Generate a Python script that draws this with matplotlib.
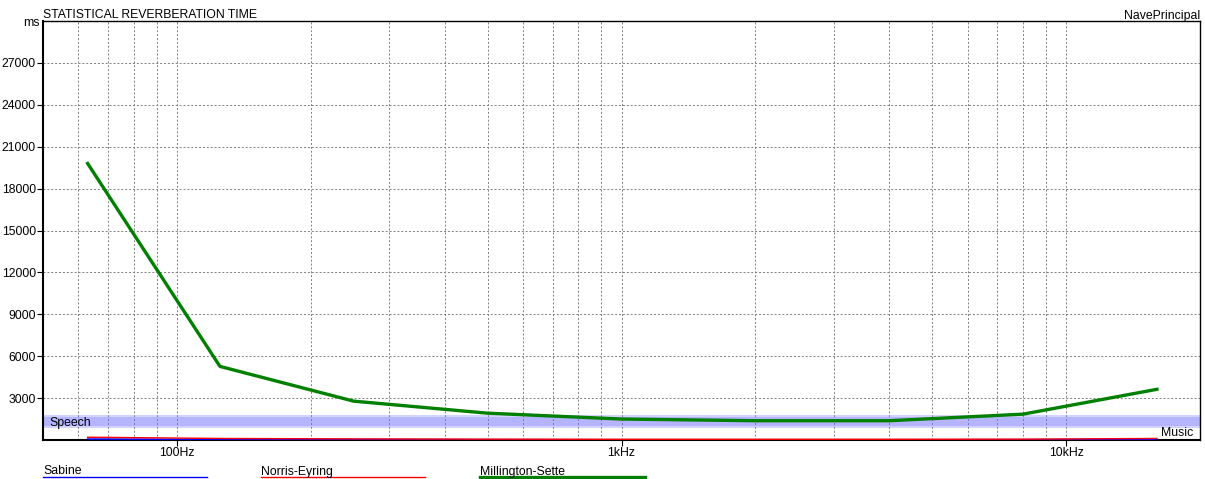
"""Statistical reverberation time chart (Sabine / Norris-Eyring / Millington-Sette)."""

import matplotlib
matplotlib.use("Agg")
import matplotlib.pyplot as plt
from matplotlib.lines import Line2D
from matplotlib.ticker import FixedLocator, NullFormatter

plt.rcParams['font.family'] = ['Liberation Sans', 'DejaVu Sans']

# octave band centre frequencies (Hz)
freqs = [63, 125, 250, 500, 1000, 2000, 4000, 8000, 16000]

# reverberation times (ms)
sabine = [70, 40, 30, 25, 20, 20, 20, 25, 40]
norris_eyring = [200, 110, 80, 60, 50, 50, 50, 60, 110]
millington_sette = [19800, 5270, 2780, 1920, 1500, 1380, 1380, 1850, 3630]

# recommended ranges (ms)
speech_range = (1000, 1780)
music_range = (850, 1640)

x_ticks = [100, 1000, 10000]
x_tick_labels = ["100Hz", "1kHz", "10kHz"]
y_ticks = list(range(3000, 30000, 3000))

FS = 8.8
W, H = 1205, 479
fig = plt.figure(figsize=(W / 100, H / 100), dpi=100)
ax = fig.add_axes([43 / W, 39 / H, 1157 / W, 419 / H])

ax.set_xscale('log')
ax.set_xlim(50, 20000)
ax.set_ylim(0, 30000)

# grid
minor = [m * d for d in (10, 100, 1000) for m in range(2, 10)]
minor = [v for v in minor if 50 < v < 20000]
ax.xaxis.set_minor_locator(FixedLocator(minor))
ax.xaxis.set_minor_formatter(NullFormatter())
ax.set_xticks(x_ticks)
ax.set_xticklabels(x_tick_labels)
ax.set_yticks(y_ticks)
ax.set_yticklabels([str(v) for v in y_ticks])
grid_kw = dict(color='#808080', linestyle=(0, (2, 2)), linewidth=0.7)
ax.grid(True, which='both', axis='x', **grid_kw)
ax.grid(True, which='major', axis='y', **grid_kw)
ax.set_axisbelow(True)

ax.tick_params(axis='both', which='major', labelsize=FS, length=4, width=0.8,
               direction='out', pad=1, colors='black')
ax.tick_params(axis='x', which='minor', length=0)
for s in ax.spines.values():
    s.set_color('black')
    s.set_linewidth(1.0)
ax.spines['left'].set_linewidth(1.5)
ax.spines['bottom'].set_linewidth(1.5)

# speech / music bands
ax.axhspan(*speech_range, color='#7070ff', alpha=0.3, linewidth=0, zorder=1)
ax.axhspan(*music_range, color='#7070ff', alpha=0.3, linewidth=0, zorder=1)
ax.text(51.8, speech_range[1] - 120, "Speech", fontsize=FS, ha='left', va='top')
ax.text(19280, music_range[0] + 80, "Music", fontsize=FS, ha='right', va='top')

# curves
ax.plot(freqs, sabine, color='#0000ff', linewidth=1.1, zorder=3)
ax.plot(freqs, norris_eyring, color='#ff0000', linewidth=1.0, zorder=3)
ax.plot(freqs, millington_sette, color='#008000', linewidth=2.4, zorder=4)

# header texts
fig.text(43 / W, 1 - 18.5 / H, "STATISTICAL REVERBERATION TIME", fontsize=FS,
         ha='left', va='baseline')
fig.text(1200 / W, 1 - 18.5 / H, "NavePrincipal", fontsize=FS,
         ha='right', va='baseline')
fig.text(40 / W, 1 - 26 / H, "ms", fontsize=FS, ha='right', va='baseline')

# legend below the plot
legend = [("Sabine", '#0000ff', 1.0, 43, 207),
          ("Norris-Eyring", '#ff0000', 1.0, 261, 425),
          ("Millington-Sette", '#008000', 2.4, 480, 645)]
for label, color, lw, x0, x1 in legend:
    fig.text(x0 / W, 1 - 474.5 / H, label, fontsize=FS, ha='left', va='baseline')
    fig.add_artist(Line2D([x0 / W, x1 / W], [1 - 476.5 / H] * 2,
                          color=color, linewidth=lw, transform=fig.transFigure))

fig.savefig("out.png", dpi=100)
